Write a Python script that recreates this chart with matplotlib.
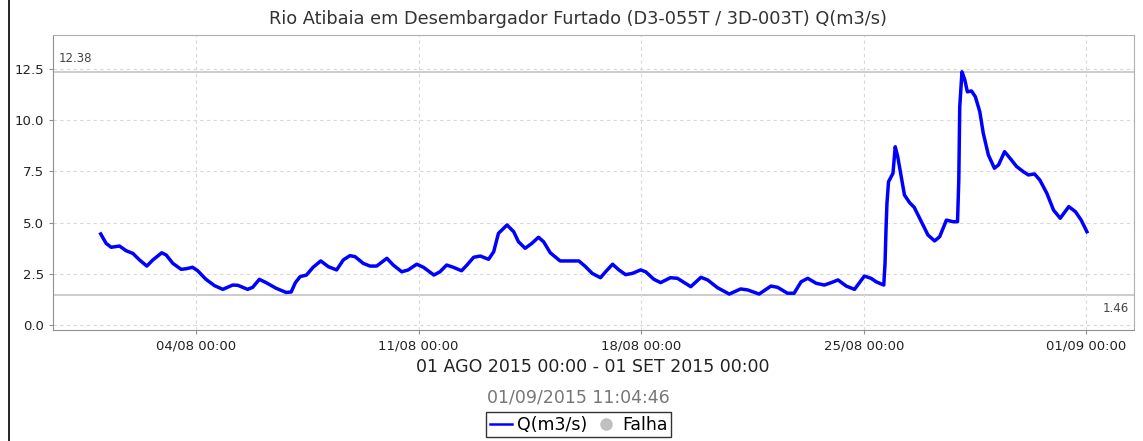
import numpy as np
import pandas as pd
import matplotlib
matplotlib.use("Agg")
import matplotlib.pyplot as plt
import matplotlib.dates as mdates
from matplotlib.lines import Line2D

# days after 01/08/2015 00:00 and discharge Q(m3/s)
days = [0.00, 0.17, 0.33, 0.59, 0.80, 1.01, 1.22, 1.45, 1.64, 1.92, 2.06, 2.27, 2.53, 2.69, 2.89,
        3.05, 3.31, 3.58, 3.84, 4.15, 4.31, 4.62, 4.78, 4.99, 5.20, 5.52, 5.83, 5.99, 6.12, 6.27,
        6.47, 6.68, 6.92, 7.16, 7.42, 7.63, 7.84, 8.00, 8.26, 8.47, 8.68, 9.00, 9.20, 9.47, 9.67,
        9.94, 10.15, 10.48, 10.67, 10.88, 11.09, 11.35, 11.52, 11.73, 11.94, 12.20, 12.36, 12.51,
        12.78, 12.99, 13.14, 13.35, 13.56, 13.77, 13.93, 14.14, 14.45, 14.78, 15.04, 15.25, 15.46,
        15.72, 15.88, 16.10, 16.30, 16.51, 16.72, 16.98, 17.14, 17.40, 17.61, 17.92, 18.14, 18.56,
        18.88, 19.09, 19.40, 19.77, 20.13, 20.35, 20.71, 21.08, 21.29, 21.60, 21.81, 22.03, 22.24,
        22.50, 22.76, 22.98, 23.19, 23.45, 23.71, 24.02, 24.23, 24.39, 24.63, 24.67, 24.70, 24.73,
        24.78, 24.92, 24.99, 25.07, 25.18, 25.28, 25.44, 25.59, 25.81, 26.02, 26.23, 26.39, 26.60,
        26.81, 26.95, 26.99, 27.02, 27.09, 27.18, 27.26, 27.39, 27.51, 27.65, 27.76, 27.92, 28.11,
        28.24, 28.43, 28.60, 28.81, 29.02, 29.18, 29.37, 29.54, 29.76, 29.97, 30.18, 30.45, 30.66,
        30.84, 31.02]
vazao = [4.44, 3.98, 3.79, 3.85, 3.62, 3.49, 3.17, 2.87, 3.17, 3.52, 3.41, 3.00, 2.71, 2.74, 2.81,
         2.64, 2.22, 1.91, 1.73, 1.94, 1.93, 1.73, 1.83, 2.22, 2.06, 1.78, 1.58, 1.60, 2.05, 2.35,
         2.43, 2.81, 3.12, 2.84, 2.68, 3.17, 3.38, 3.33, 3.00, 2.87, 2.87, 3.25, 2.92, 2.59, 2.68,
         2.96, 2.81, 2.43, 2.59, 2.92, 2.81, 2.64, 2.92, 3.30, 3.36, 3.20, 3.57, 4.47,
         4.88, 4.55, 4.06, 3.74, 3.98, 4.28, 4.06, 3.52, 3.12, 3.12, 3.12, 2.84, 2.51,
         2.30, 2.59, 2.96, 2.68, 2.45, 2.51, 2.68, 2.59, 2.22, 2.06, 2.30, 2.27, 1.86,
         2.32, 2.19, 1.81, 1.50, 1.75, 1.70, 1.50, 1.89, 1.83, 1.54, 1.54, 2.10, 2.27,
         2.03, 1.94, 2.06, 2.19, 1.89, 1.73, 2.38, 2.27, 2.10, 1.94, 3.00, 4.64, 5.94,
         7.00, 7.41, 8.71, 8.22, 7.24, 6.35, 5.98, 5.74, 5.05, 4.39, 4.10, 4.31, 5.12,
         5.04, 5.04, 7.08, 10.67, 12.38, 11.98, 11.40, 11.44, 11.16, 10.43, 9.37, 8.31, 7.66,
         7.82, 8.47, 8.15, 7.74, 7.49, 7.33, 7.38, 7.08, 6.43, 5.61, 5.21, 5.78, 5.53,
         5.12, 4.55]

q_max = 12.38
q_min = 1.46
yticks = [0.0, 2.5, 5.0, 7.5, 10.0, 12.5]
xtick_dates = ["2015-08-04", "2015-08-11", "2015-08-18", "2015-08-25", "2015-09-01"]

inicio = pd.Timestamp("2015-08-01 00:00")
t = inicio + pd.to_timedelta(days, unit="D")

fig = plt.figure(figsize=(11.43, 4.41), dpi=100)
ax = fig.add_axes([0.0464, 0.2517, 0.9457, 0.6689])

ax.axhline(q_max, color="#c8c8c8", lw=1.3, zorder=1)
ax.axhline(q_min, color="#c8c8c8", lw=1.3, zorder=1)
ax.plot(t, vazao, color="#0000ff", lw=2.5, zorder=3, solid_joinstyle="round")

ax.set_xlim(inicio - pd.Timedelta(hours=36), inicio + pd.Timedelta(days=32.5))
ax.set_ylim(-0.26, 14.18)
ax.set_yticks(yticks)
ax.yaxis.set_major_formatter(matplotlib.ticker.FormatStrFormatter("%.1f"))
ax.set_xticks(pd.to_datetime(xtick_dates))
ax.xaxis.set_major_formatter(mdates.DateFormatter("%d/%m %H:%M"))

ax.grid(True, color="#d8d8d8", ls=(0, (3, 3)), lw=0.8)
for s in ax.spines.values():
    s.set_color("#b0b0b0")
ax.spines["left"].set_color("#909090")
ax.spines["bottom"].set_color("#909090")
ax.tick_params(colors="#909090", labelcolor="#222222", labelsize=9.5, length=3)

ax.text(0.005, q_max + 0.35, "12.38", transform=ax.get_yaxis_transform(),
        fontsize=8.5, color="#444444", va="bottom", ha="left")
ax.text(0.995, q_min - 0.35, "1.46", transform=ax.get_yaxis_transform(),
        fontsize=8.5, color="#444444", va="top", ha="right")

fig.text(0.5055, 0.957, "Rio Atibaia em Desembargador Furtado (D3-055T / 3D-003T) Q(m3/s)",
         ha="center", va="center", fontsize=12.8, color="#333333")
fig.text(0.519, 0.168, "01 AGO 2015 00:00 - 01 SET 2015 00:00",
         ha="center", va="center", fontsize=12.5, color="#222222")
fig.text(0.506, 0.099, "01/09/2015 11:04:46",
         ha="center", va="center", fontsize=12.5, color="#777777")

handles = [Line2D([], [], color="#0000ff", lw=1.8),
           Line2D([], [], color="#c0c0c0", marker="o", ls="none", markersize=8)]
leg = fig.legend(handles, ["Q(m3/s)", "Falha"], loc="center", bbox_to_anchor=(0.5064, 0.037),
                 ncol=2, fontsize=12.5, frameon=True, fancybox=False, handlelength=1.3,
                 handletextpad=0.3, columnspacing=0.4, borderpad=0.2, borderaxespad=0)
leg.get_frame().set_edgecolor("black")
leg.get_frame().set_linewidth(1.0)

fig.add_artist(Line2D([8.5 / 1143, 8.5 / 1143], [0, 1], color="black", lw=1.2))

fig.savefig("out.png", dpi=100)
